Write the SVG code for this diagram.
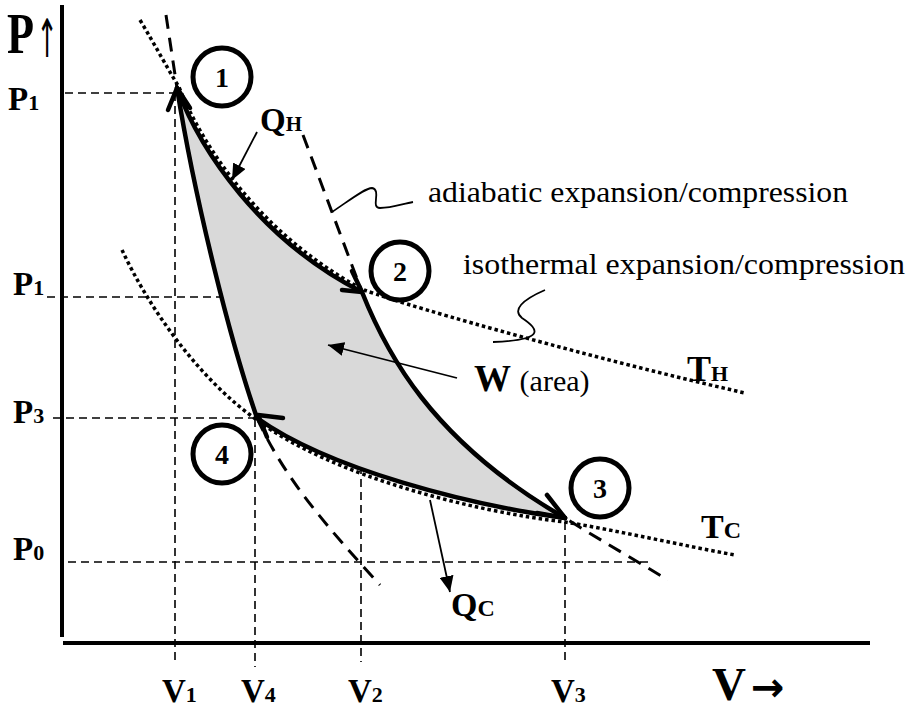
<svg xmlns="http://www.w3.org/2000/svg" width="914" height="714" viewBox="0 0 914 714">
<style>
.ax{stroke:#000;stroke-width:4;fill:none}
.guide{stroke:#000;stroke-width:1.6;stroke-dasharray:8 5;fill:none}
.iso{stroke:#000;stroke-width:3.5;stroke-dasharray:3.5 3;fill:none}
.adi{stroke:#000;stroke-width:3;stroke-dasharray:14 9;fill:none}
.cyc{stroke:#000;stroke-width:4.5;fill:none;stroke-linecap:round;stroke-linejoin:round}
.thin{stroke:#000;stroke-width:1.8;fill:none}
.lbl{font-family:"Liberation Serif","Times New Roman",serif;font-weight:bold;fill:#000}
.txt{font-family:"Liberation Serif","Times New Roman",serif;fill:#000}
.state circle{fill:none;stroke:#000;stroke-width:5}
.state text{font-family:"Liberation Serif","Times New Roman",serif;font-weight:bold;font-size:28px;text-anchor:middle}
</style>
<defs>
<marker id="ah" markerUnits="userSpaceOnUse" markerWidth="18" markerHeight="14" refX="16" refY="7" orient="auto">
<path d="M0,0 L16,7 L0,14 Z" fill="#000"/>
</marker>
</defs>

<!-- axes -->
<g id="axes">
<line class="ax" x1="62" y1="5" x2="62" y2="637"/>
<line class="ax" x1="63" y1="643" x2="870" y2="643"/>
</g>

<!-- dashed guide lines -->
<g id="guides">
<line class="guide" x1="65" y1="93" x2="175" y2="93"/>
<line class="guide" x1="175" y1="93" x2="175" y2="662"/>
<line class="guide" x1="47" y1="297" x2="362" y2="297"/>
<line class="guide" x1="361" y1="297" x2="361" y2="662"/>
<line class="guide" x1="53" y1="418" x2="333" y2="418"/>
<line class="guide" x1="255" y1="315" x2="255" y2="667"/>
<line class="guide" x1="565" y1="522" x2="565" y2="662"/>
<line class="guide" x1="68" y1="562" x2="648" y2="562"/>
</g>

<!-- cycle area -->
<path id="area" d="M177,88 C200,150 260,240 362,292 C385,350 430,440 565,518 C470,505 330,470 257,418 C230,340 195,200 177,88 Z" fill="#d9d9d9" stroke="none"/>

<!-- isotherms and adiabats -->
<g id="curves">
<path id="isoTH" class="iso" d="M140,20 C155,45 166,66 179,87 C203,148 263,237 364,290 C420,310 600,360 745,393"/>
<path id="isoTC" class="iso" d="M122,250 C150,310 200,380 257,420 C330,475 470,511 565,522 C620,531 680,545 735,555"/>
<path id="adi14" class="adi" d="M166,15 L177,88 C195,200 230,340 257,418 C285,480 330,530 380,585"/>
<path id="adi23" class="adi" d="M303,135 L362,292 C385,350 430,440 565,518 C600,540 635,560 668,580"/>
</g>

<!-- cycle connectors -->
<g id="connectors">
<path class="cyc" d="M177,88 C200,150 260,240 362,292"/>
<path class="cyc" d="M342,290 L362,292 L352,271"/>
<path class="cyc" d="M362,292 C385,350 430,440 565,518"/>
<path class="cyc" d="M537,513 L565,518 L547,495"/>
<path class="cyc" d="M565,518 C470,505 330,470 257,418"/>
<path class="cyc" d="M283,418 L258,415 L267,437"/>
<path class="cyc" d="M257,418 C230,340 195,200 177,88"/>
<path class="cyc" d="M168,110 L177,88 L190,108"/>
<line class="thin" x1="257" y1="132" x2="232" y2="180" marker-end="url(#ah)"/>
<line class="thin" x1="457" y1="378" x2="328" y2="345" marker-end="url(#ah)"/>
<line class="thin" x1="430" y1="500" x2="450" y2="592" marker-end="url(#ah)"/>
<path class="thin" d="M332,212 C350,200 365,188 372,188 C382,190 370,208 380,208 C392,208 402,204 413,202"/>
<path class="thin" d="M545,290 C522,300 512,310 522,318 C540,330 545,340 493,342"/>
</g>

<!-- state nodes -->
<g id="state1" class="state"><circle cx="222" cy="77" r="29"/><text x="222" y="87">1</text></g>
<g id="state2" class="state"><circle cx="400" cy="271" r="29"/><text x="400" y="281">2</text></g>
<g id="state3" class="state"><circle cx="600" cy="488" r="29"/><text x="600" y="498">3</text></g>
<g id="state4" class="state"><circle cx="222" cy="454" r="29"/><text x="222" y="464">4</text></g>

<!-- labels -->
<g id="labels">
<text class="lbl" font-size="52" transform="translate(7,53) scale(0.85,1.08)">P</text>
<text class="txt" font-size="46" text-anchor="middle" style="font-family:'DejaVu Sans',sans-serif" transform="translate(47,57) scale(0.55,1.15)">↑</text>
<text class="lbl" x="8" y="110" font-size="33">P<tspan font-size="22">1</tspan></text>
<text class="lbl" x="13" y="295" font-size="33">P<tspan font-size="22">1</tspan></text>
<text class="lbl" x="13" y="423" font-size="33">P<tspan font-size="22">3</tspan></text>
<text class="lbl" x="13" y="560" font-size="33">P<tspan font-size="22">0</tspan></text>
<text class="lbl" x="162" y="702" font-size="33">V<tspan font-size="22">1</tspan></text>
<text class="lbl" x="241" y="702" font-size="33">V<tspan font-size="22">4</tspan></text>
<text class="lbl" x="348" y="702" font-size="33">V<tspan font-size="22">2</tspan></text>
<text class="lbl" x="551" y="702" font-size="33">V<tspan font-size="22">3</tspan></text>
<text class="lbl" x="712" y="700" font-size="47">V</text>
<text x="751" y="701" font-size="40" style="font-family:'DejaVu Sans',sans-serif;font-weight:bold">→</text>
<text class="lbl" x="260" y="131" font-size="33">Q<tspan font-size="21">H</tspan></text>
<text class="lbl" x="451" y="616" font-size="34">Q<tspan font-size="24">C</tspan></text>
<text class="lbl" x="687" y="381" font-size="36">T<tspan font-size="22">H</tspan></text>
<text class="lbl" x="701" y="538" font-size="34">T<tspan font-size="24">C</tspan></text>
<text class="lbl" x="474" y="391" font-size="37">W <tspan font-weight="normal" font-size="30">(area)</tspan></text>
<text class="txt" x="428" y="202" font-size="30" textLength="420" lengthAdjust="spacingAndGlyphs">adiabatic expansion/compression</text>
<text class="txt" x="463" y="274" font-size="30" textLength="442" lengthAdjust="spacingAndGlyphs">isothermal expansion/compression</text>
</g>
</svg>
